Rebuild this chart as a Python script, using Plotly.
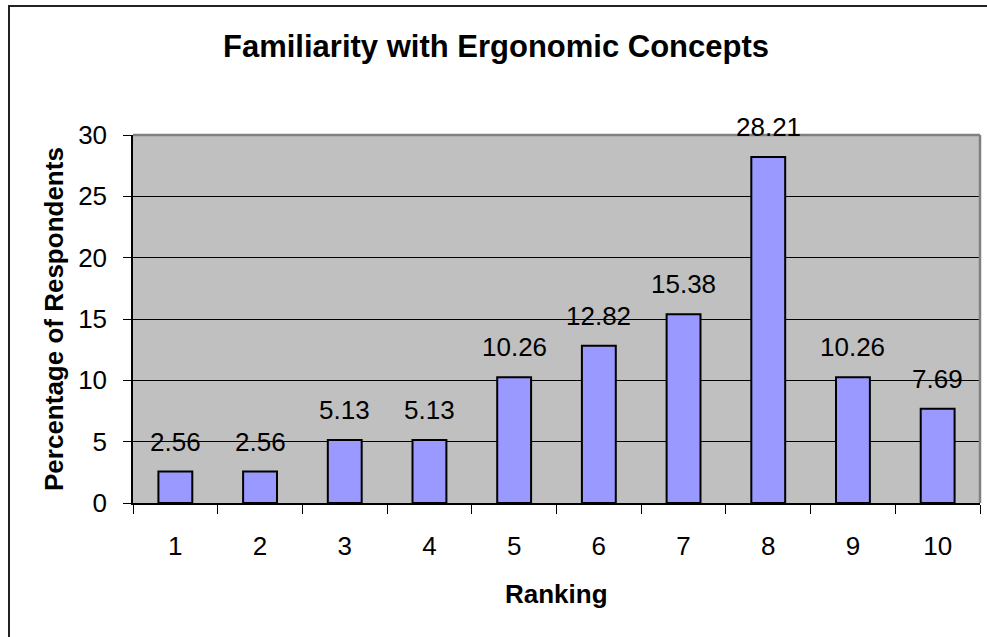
import plotly.graph_objects as go

categories = ["1", "2", "3", "4", "5", "6", "7", "8", "9", "10"]
values = [2.56, 2.56, 5.13, 5.13, 10.26, 12.82, 15.38, 28.21, 10.26, 7.69]
y_ticks = [0, 5, 10, 15, 20, 25, 30]
title_text = "Familiarity with Ergonomic Concepts"
x_title = "Ranking"
y_title = "Percentage of Respondents"

FONT = "Arial, Liberation Sans, sans-serif"
W, H = 987, 637
L, R, T, B = 133, 7, 135, 134
PW = W - L - R
PH = H - T - B

def px_x(x):
    return (x - L) / PW

def px_y(y):
    return (H - B - y) / PH

fig = go.Figure()
fig.add_trace(go.Bar(
    x=categories, y=values, width=0.4,
    marker=dict(color="#9999FF", line=dict(color="black", width=2)),
    hoverinfo="skip",
))

annotations = []
for i, v in enumerate(values):
    annotations.append(dict(
        x=i, y=v, xref="x", yref="y", text=f"{v:.2f}", showarrow=False,
        xanchor="center", yanchor="bottom", yshift=13,
        font=dict(family=FONT, size=26, color="black"),
    ))

annotations.append(dict(
    x=px_x(496), y=px_y(46), xref="paper", yref="paper", text=f"<b>{title_text}</b>",
    showarrow=False, xanchor="center", yanchor="middle",
    font=dict(family=FONT, size=31, color="black"),
))
annotations.append(dict(
    x=px_x(556), y=px_y(594), xref="paper", yref="paper", text=f"<b>{x_title}</b>",
    showarrow=False, xanchor="center", yanchor="middle",
    font=dict(family=FONT, size=26, color="black"),
))
annotations.append(dict(
    x=px_x(54), y=px_y(319), xref="paper", yref="paper", text=f"<b>{y_title}</b>",
    showarrow=False, xanchor="center", yanchor="middle", textangle=-90,
    font=dict(family=FONT, size=26, color="black"),
))

shapes = [
    # outer chart frame (right and bottom edges fall outside the picture)
    dict(type="rect", xref="paper", yref="paper",
         x0=px_x(9), x1=px_x(1010), y0=px_y(670), y1=px_y(6),
         line=dict(color="#222222", width=2), layer="below"),
    # plot area border top and right
    dict(type="line", xref="paper", yref="paper", x0=0, x1=1, y0=1, y1=1,
         line=dict(color="#808080", width=2.5), layer="above"),
    dict(type="line", xref="paper", yref="paper", x0=1, x1=1, y0=0, y1=1,
         line=dict(color="#808080", width=2.5), layer="above"),
]

fig.update_layout(
    width=W, height=H,
    margin=dict(l=L, r=R, t=T, b=B, pad=0),
    paper_bgcolor="white", plot_bgcolor="#C0C0C0",
    showlegend=False,
    annotations=annotations, shapes=shapes,
    font=dict(family=FONT, size=26, color="black"),
)
fig.update_xaxes(
    type="category", range=[-0.5, len(categories) - 0.5],
    tickson="boundaries", ticks="outside", ticklen=9,
    tickcolor="black", tickwidth=1, showline=True, linecolor="black", linewidth=1.5,
    showgrid=False, tickfont=dict(family=FONT, size=26, color="black"),
    ticklabelstandoff=19,
)
fig.update_yaxes(
    range=[0, 30], tickvals=y_ticks, ticks="outside", ticklen=8,
    tickcolor="black", tickwidth=1, showline=True, linecolor="black", linewidth=1.5,
    showgrid=True, gridcolor="black", gridwidth=1, zeroline=False,
    tickfont=dict(family=FONT, size=26, color="black"),
    ticklabelstandoff=11,
)

fig.write_html(
    "out.html",
    config={"displayModeBar": False},
    post_script="document.body.style.margin='0px';",
)
